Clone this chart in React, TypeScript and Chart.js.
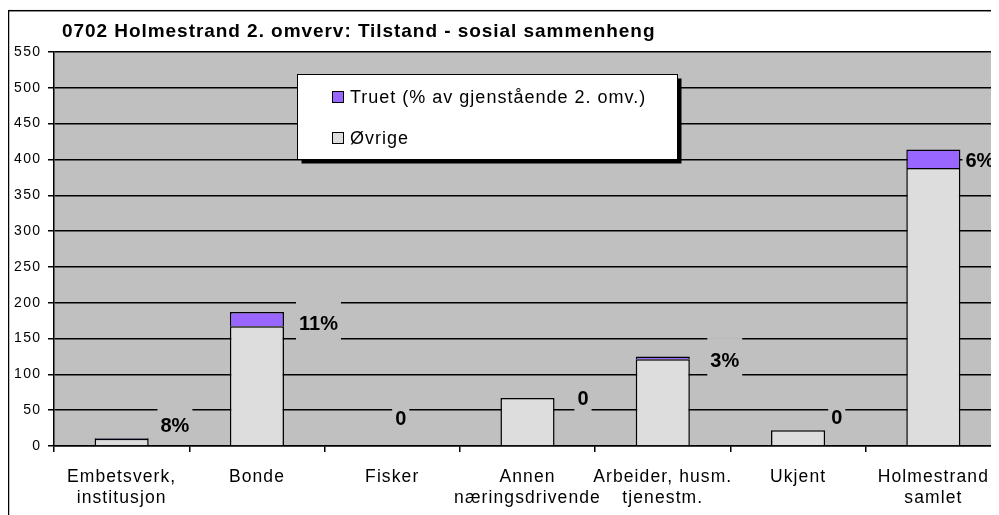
import React, { useEffect, useRef } from 'react';
import { Chart, registerables } from 'chart.js';

Chart.register(...registerables);

// ---- data ----
const chartTitle = '0702 Holmestrand 2. omverv: Tilstand - sosial sammenheng';
const categories: (string | string[])[] = [
  ['Embetsverk,', 'institusjon'],
  'Bonde',
  'Fisker',
  ['Annen', 'næringsdrivende'],
  ['Arbeider, husm.', 'tjenestm.'],
  'Ukjent',
  ['Holmestrand', 'samlet'],
];
const seriesTruetLabel = 'Truet (% av gjenstående 2. omv.)';
const seriesOvrigeLabel = 'Øvrige';
const ovrigeValues = [10, 167, 0, 67, 121, 22, 388];
const truetValues = [1, 20, 0, 0, 4, 0, 26];
const pctLabels = ['8%', '11%', '0', '0', '3%', '0', '6%'];
// value level (y) where each percentage label sits
const pctLabelLevels = [29, 171, 39, 66, 120, 40, 399];
const yMin = 0;
const yMax = 550;
const yStep = 50;

// ---- layout / style ----
const pctLabelShift = [0.394, 0.455, 0.063, 0.41, 0.458, 0.286, 0.344]; // fraction of category width
const FONT = '"Liberation Sans", Arial, sans-serif';
const COLOR_TRUET = '#9966FF';
const COLOR_OVRIGE = '#DDDDDD';
const PLOT_BG = '#C0C0C0';
const CANVAS_W = 1000;
const CANVAS_H = 507;

const withSpacing = (spacing: string) => (scale: any) => {
  if (scale.__spaced) return;
  scale.__spaced = true;
  const orig = scale.drawLabels.bind(scale);
  scale.drawLabels = (area: any) => {
    const ctx = scale.ctx;
    ctx.save();
    (ctx as any).letterSpacing = spacing;
    orig(area);
    ctx.restore();
  };
};

const framePlugin = {
  id: 'frame',
  beforeDraw(chart: any) {
    const { ctx, chartArea } = chart;
    ctx.save();
    ctx.fillStyle = PLOT_BG;
    ctx.fillRect(chartArea.left, chartArea.top, chartArea.right - chartArea.left, chartArea.bottom - chartArea.top);
    ctx.strokeStyle = '#000';
    ctx.lineWidth = 1.5;
    ctx.strokeRect(0.5, 2.7, CANVAS_W + 50, CANVAS_H + 50);
    ctx.fillStyle = '#000';
    ctx.font = `bold 19px ${FONT}`;
    (ctx as any).letterSpacing = '0.95px';
    ctx.textBaseline = 'alphabetic';
    ctx.textAlign = 'left';
    ctx.fillText(chartTitle, 54, 28.5);
    ctx.restore();
  },
};

const pctLabelPlugin = {
  id: 'pctLabels',
  afterDatasetsDraw(chart: any) {
    const { ctx } = chart;
    const xs = chart.scales.x;
    const ys = chart.scales.y;
    const cw = (xs.right - xs.left) / categories.length;
    ctx.save();
    ctx.font = `bold 20px ${FONT}`;
    ctx.textAlign = 'center';
    ctx.textBaseline = 'middle';
    pctLabels.forEach((t, i) => {
      const cx = xs.getPixelForValue(i) + pctLabelShift[i] * cw;
      const cy = ys.getPixelForValue(pctLabelLevels[i]);
      const w = ctx.measureText(t).width;
      ctx.fillStyle = PLOT_BG;
      ctx.fillRect(cx - w / 2 - 3, cy - 22, w + 6, 39);
      ctx.fillStyle = '#000';
      ctx.fillText(t, cx, cy + 1);
    });
    ctx.restore();
  },
};

const legendPlugin = {
  id: 'boxLegend',
  afterDraw(chart: any) {
    const { ctx } = chart;
    const bx = 289.5, by = 66.5, bw = 380, bh = 85;
    ctx.save();
    ctx.fillStyle = '#000';
    ctx.fillRect(bx + 4, by + 4, bw, bh);
    ctx.fillStyle = '#fff';
    ctx.fillRect(bx, by, bw, bh);
    ctx.strokeStyle = '#000';
    ctx.lineWidth = 1;
    ctx.strokeRect(bx, by, bw, bh);
    const items = [...chart.data.datasets].reverse();
    ctx.font = `18px ${FONT}`;
    (ctx as any).letterSpacing = '1px';
    ctx.textBaseline = 'middle';
    ctx.textAlign = 'left';
    items.forEach((ds: any, k: number) => {
      const rowY = 89 + k * 41;
      ctx.fillStyle = ds.backgroundColor;
      ctx.fillRect(324.5, rowY - 5.5, 11, 11);
      ctx.strokeStyle = '#000';
      ctx.strokeRect(324.5, rowY - 5.5, 11, 11);
      ctx.fillStyle = '#000';
      ctx.fillText(ds.label, 342, rowY + 1);
    });
    ctx.restore();
  },
};

export default function App() {
  const ref = useRef<HTMLCanvasElement | null>(null);
  useEffect(() => {
    if (!ref.current) return;
    const chart = new Chart(ref.current, {
      type: 'bar',
      data: {
        labels: categories as any,
        datasets: [
          {
            label: seriesOvrigeLabel,
            data: ovrigeValues,
            backgroundColor: COLOR_OVRIGE,
            borderColor: '#000',
            borderWidth: 1.5,
            barPercentage: 0.4,
            categoryPercentage: 1,
          },
          {
            label: seriesTruetLabel,
            data: truetValues,
            backgroundColor: COLOR_TRUET,
            borderColor: '#000',
            borderWidth: 1.5,
            barPercentage: 0.4,
            categoryPercentage: 1,
          },
        ],
      },
      options: {
        animation: false,
        responsive: false,
        devicePixelRatio: 1,
        layout: { padding: { top: 44, right: 7, left: 0, bottom: 0 } },
        plugins: {
          legend: { display: false },
          title: { display: false },
          tooltip: { enabled: false },
        },
        scales: {
          x: {
            stacked: true,
            offset: true,
            grid: { offset: true, drawOnChartArea: false, drawTicks: true, tickLength: 6, color: '#000', lineWidth: 1.5 },
            border: { display: true, color: '#000', width: 1.5 },
            ticks: {
              autoSkip: false,
              maxRotation: 0,
              minRotation: 0,
              padding: 14.5,
              color: '#000',
              font: { family: FONT, size: 17.5, lineHeight: '21px' as any },
            },
            afterFit: (s: any) => { s.height = 69; },
            afterUpdate: withSpacing('1.1px'),
          },
          y: {
            stacked: true,
            min: yMin,
            max: yMax,
            ticks: { stepSize: yStep, padding: 6.7, color: '#000', font: { family: FONT, size: 14 } },
            grid: { color: '#000', lineWidth: 1.5, tickLength: 6, drawTicks: true },
            border: { display: true, color: '#000', width: 1.5 },
            afterFit: (s: any) => { s.width = 46; },
            afterUpdate: withSpacing('1.3px'),
          },
        },
      } as any,
      plugins: [framePlugin, pctLabelPlugin, legendPlugin],
    });
    return () => chart.destroy();
  }, []);
  return (
    <div style={{ position: 'relative', width: 991, height: 507, overflow: 'hidden' }}>
      <canvas ref={ref} width={CANVAS_W} height={CANVAS_H} style={{ display: 'block', width: CANVAS_W, height: CANVAS_H }} />
    </div>
  );
}
